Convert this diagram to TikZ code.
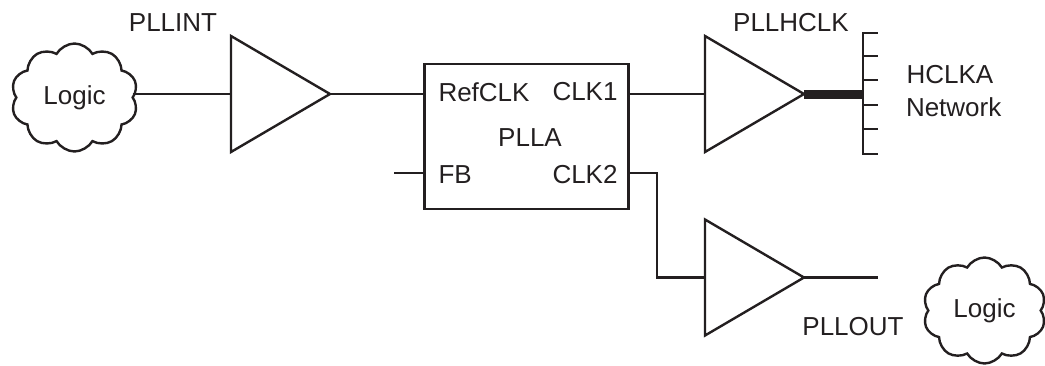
\documentclass[tikz,border=0pt]{standalone}
\usepackage{fontspec}
\setmainfont{Liberation Sans}
\usetikzlibrary{shapes.geometric,shapes.symbols,calc}
\definecolor{ink}{HTML}{231F20}
\tikzset{
  x=1pt,y=-1pt,
  wire/.style={draw=ink,line width=2.4pt},
  lbl/.style={text=ink,font=\fontsize{26}{30}\selectfont,inner sep=0pt,outer sep=0pt},
  portl/.style={lbl,anchor=west},
  amp/.style={draw=ink,line width=2.4pt,shape=isosceles triangle,isosceles triangle stretches=true,minimum height=99pt,minimum width=116pt,inner sep=0pt,outer sep=0pt,anchor=west},
  puff/.style={draw=ink,line width=2.4pt,shape=cloud,cloud puffs=10,cloud puff arc=120,inner sep=0pt,outer sep=0pt,text=ink,font=\fontsize{26}{30}\selectfont},
}
\begin{document}
\begin{tikzpicture}
\useasboundingbox (0,0) rectangle (1045,365);
% clouds
\node[puff,minimum width=127pt,minimum height=108pt] (cloudA) at (74.5,97.5) {Logic};
\node[puff,minimum width=123pt,minimum height=106pt] (cloudB) at (984.5,310.5) {Logic};
% amplifiers
\node[amp] (ampA) at (231,94) {};
\node[amp] (ampB) at (705,94) {};
\node[amp] (ampC) at (705,277.5) {};
% PLL block
\node[draw=ink,line width=2.4pt,minimum width=204pt,minimum height=145pt,inner sep=0pt,outer sep=0pt,lbl] (pll) at (526.5,136.5) {};
\node[lbl] (pllname) at (530,138) {PLLA};
\node[portl] (ref) at (438.5,92) {RefCLK};
\node[portl] (clka) at (552.5,92) {CLK1};
\node[portl] (fb) at (438.5,175) {FB};
\node[portl] (clkb) at (552.5,175) {CLK2};
% labels
\node[lbl] (lint) at (173,23) {PLLINT};
\node[lbl] (lhclk) at (791,23) {PLLHCLK};
\node[lbl] (lout) at (853,327) {PLLOUT};
\node[lbl,anchor=west] (hclka) at (906.5,75) {HCLKA};
\node[lbl,anchor=west] (netw) at (906,107) {Network};
% free ends
\coordinate (fbend) at (394,173);
\coordinate (inA) at (423,94);
\coordinate (outA) at (630,94);
\coordinate (inF) at (423,173);
\coordinate (outB) at (630,173);
\coordinate (bend) at (657,173);
\coordinate (outC) at (878,277.5);
\coordinate (busT) at (863,33);
\coordinate (busB) at (863,154);
% wires
\draw[wire] (cloudA.east |- ampA.west) -- (ampA.west);
\draw[wire] (ampA.apex) -- (inA);
\draw[wire] (outA) -- (ampB.west |- outA);
\draw[wire] (fbend) -- (inF);
\draw[wire] (outB) -- (bend) |- (ampC.west);
\draw[wire] (ampC.apex) -- (outC);
% bus
\draw[draw=ink,line width=9pt] (ampB.apex) -- (busT |- ampB.apex);
\draw[wire,line cap=rect] (busT) -- (busB);
\foreach \yy in {33,56,80,105,129,154}
  \draw[wire] (busT |- 0,\yy) -- ++(15,0);
\end{tikzpicture}
\end{document}
